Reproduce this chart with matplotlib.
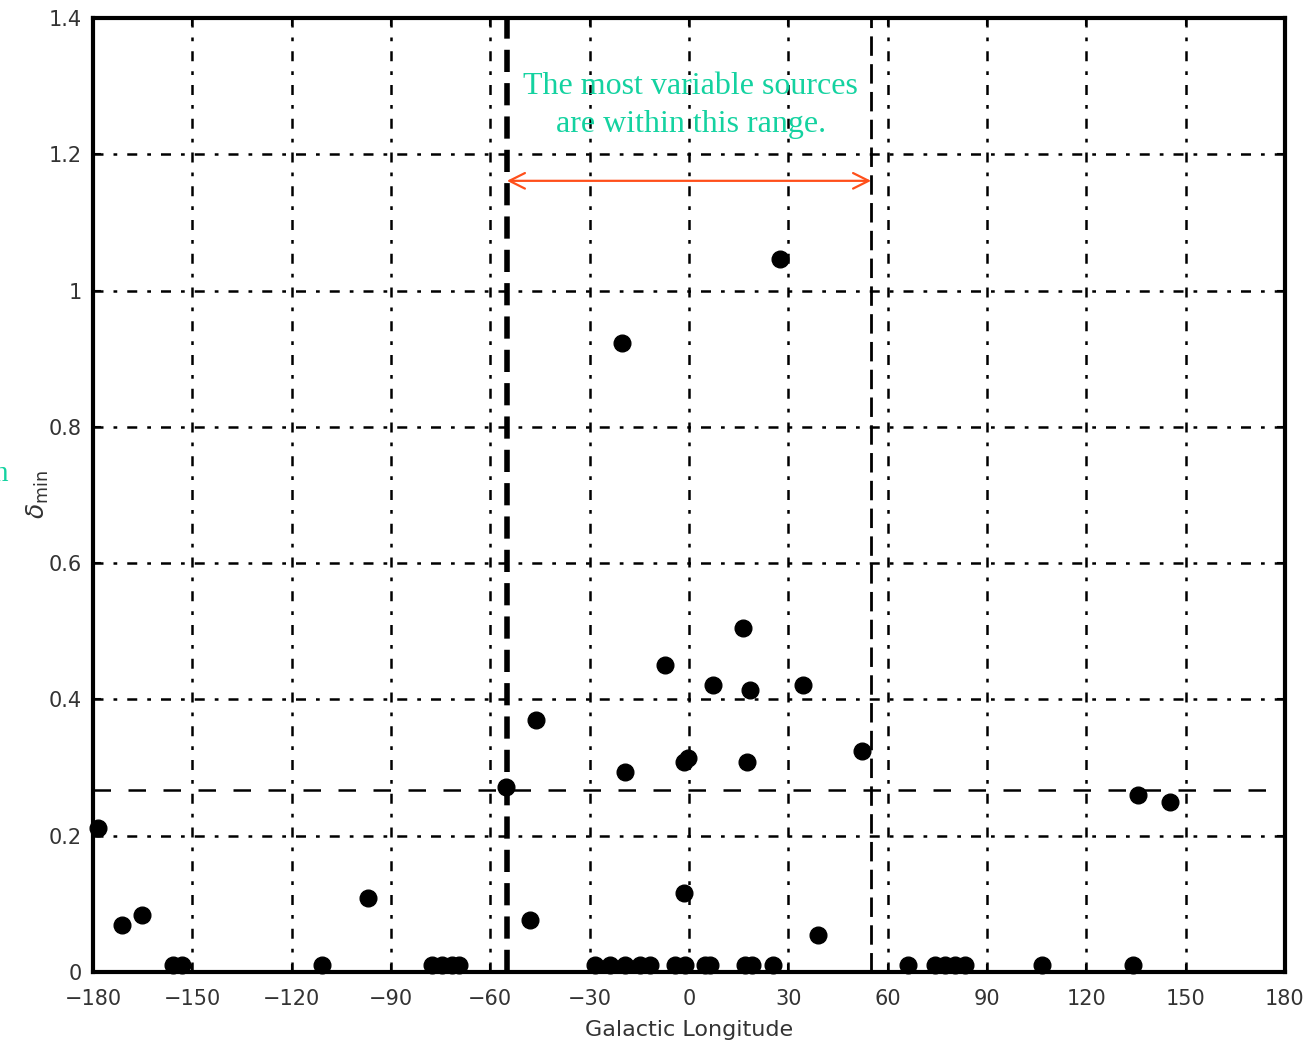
import matplotlib.pyplot as plt
import numpy as np

# source positions (galactic longitude, delta_min)
lon = [-178.5, -171.2, -165.2, -155.8, -153.1, -110.8, -96.9,
       -77.6, -74.6, -71.6, -69.5,
       -55.3, -46.2, -48.0, -20.2, -19.3, -7.2, -1.5, -0.3, -1.5,
       7.3, 16.3, 18.4, 17.5, 27.5, 34.4, 39.0, 52.3,
       -28.4, -23.9, -19.3, -14.8, -11.8, -4.2, -1.2, 4.8, 6.3, 16.9, 19.0, 25.4,
       66.2, 74.3, 77.3, 80.3, 83.4, 106.6, 134.1,
       135.6, 145.3]
dmin = [0.211, 0.069, 0.084, 0.01, 0.01, 0.01, 0.109,
        0.01, 0.01, 0.01, 0.01,
        0.272, 0.370, 0.076, 0.923, 0.294, 0.451, 0.308, 0.314, 0.116,
        0.421, 0.505, 0.414, 0.308, 1.046, 0.421, 0.054, 0.324,
        0.01, 0.01, 0.01, 0.01, 0.01, 0.01, 0.01, 0.01, 0.01, 0.01, 0.01, 0.01,
        0.01, 0.01, 0.01, 0.01, 0.01, 0.01, 0.01,
        0.260, 0.249]

xticks = [-180, -150, -120, -90, -60, -30, 0, 30, 60, 90, 120, 150, 180]
xlabels = ['\u2212180', '\u2212150', '\u2212120', '\u221290', '\u221260', '\u221230',
           '0', '30', '60', '90', '120', '150', '180']
yticks = [0, 0.2, 0.4, 0.6, 0.8, 1.0, 1.2, 1.4]
ylabels = ['0', '0.2', '0.4', '0.6', '0.8', '1', '1.2', '1.4']

range_lo, range_hi = -55, 55
threshold = 0.267
teal = '#14d2a0'

fig = plt.figure(figsize=(13.12, 10.5), dpi=100)
ax = fig.add_axes([0.0709, 0.0743, 0.9085, 0.9086])

ax.set_xlim(-180, 180)
ax.set_ylim(0, 1.4)
ax.set_xticks(xticks)
ax.set_xticklabels(xlabels)
ax.set_yticks(yticks)
ax.set_yticklabels(ylabels)
ax.tick_params(direction='in', length=6, width=1.5, labelsize=15,
               labelcolor='#333333', top=True, right=True)
ax.tick_params(axis='x', pad=12)
ax.tick_params(axis='y', pad=8)

# grid as dash-dot
ax.grid(True, color='black', linewidth=1.8, linestyle=(0, (4, 4, 1.5, 4)))
ax.set_axisbelow(True)

for s in ax.spines.values():
    s.set_linewidth(3)

# range markers
ax.axvline(range_lo, color='black', linewidth=4, linestyle=(0, (4, 2)), zorder=2)
ax.axvline(range_hi, color='black', linewidth=2, linestyle=(0, (7, 3)), zorder=2)
ax.axhline(threshold, color='black', linewidth=1.8, linestyle=(0, (7, 7)), zorder=2)

ax.plot(lon, dmin, 'o', color='black', markersize=12, zorder=3, clip_on=False)

ax.annotate('', xy=(range_lo, 1.161), xytext=(range_hi, 1.161),
            arrowprops=dict(arrowstyle='<->', color='#ff4f1a', lw=1.6,
                            mutation_scale=28, shrinkA=0, shrinkB=0))
ax.text(0.5, 1.272, 'The most variable sources\nare within this range.',
        color=teal, fontsize=23, family='Liberation Serif', ha='center',
        va='center', linespacing=1.42)

ax.set_xlabel('Galactic Longitude', fontsize=16, color='#333333', labelpad=8)
ax.set_ylabel(r'$\delta_{\rm min}$', fontsize=18, color='#333333', labelpad=-2)

# cut-off text at the left edge in the original
fig.text(0.006, 0.549, 'n', color=teal, fontsize=21, family='Liberation Serif',
         ha='right', va='center')

fig.savefig('out.png', dpi=100, facecolor='white')
